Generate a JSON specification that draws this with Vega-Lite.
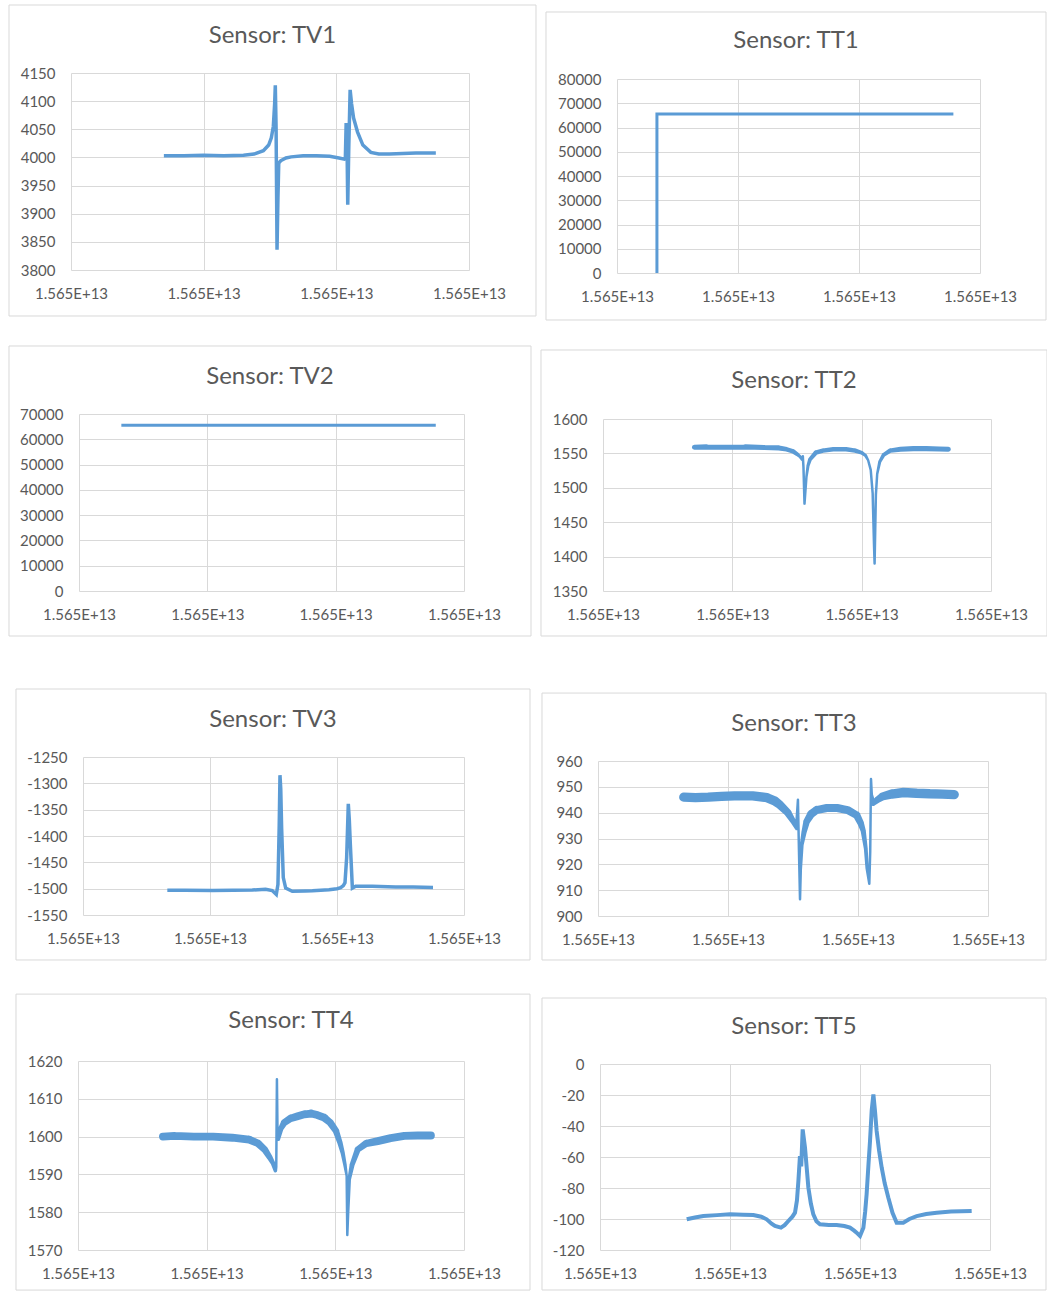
{
  "$schema": "https://vega.github.io/schema/vega-lite/v6.json",
  "padding": 0,
  "background": "white",
  "datasets": {
    "TV1": [
      {"t":0.70,"v":4003},{"t":0.85,"v":4003},{"t":1.00,"v":4004},{"t":1.15,"v":4003},{"t":1.30,"v":4004},
      {"t":1.38,"v":4006},{"t":1.45,"v":4012},{"t":1.49,"v":4022},{"t":1.51,"v":4035},{"t":1.525,"v":4055},
      {"t":1.535,"v":4095},{"t":1.540,"v":4128},{"t":1.546,"v":4050},{"t":1.553,"v":3836},{"t":1.560,"v":3930},
      {"t":1.566,"v":3990},{"t":1.58,"v":3994},{"t":1.62,"v":3999},{"t":1.66,"v":4001},{"t":1.75,"v":4003},
      {"t":1.85,"v":4003},{"t":1.95,"v":4002},{"t":2.02,"v":3999},{"t":2.06,"v":3997},{"t":2.068,"v":3999},
      {"t":2.074,"v":4061},{"t":2.079,"v":4055},{"t":2.086,"v":3916},{"t":2.094,"v":4020},{"t":2.104,"v":4120},
      {"t":2.115,"v":4095},{"t":2.13,"v":4070},{"t":2.16,"v":4045},{"t":2.20,"v":4022},{"t":2.26,"v":4009},
      {"t":2.32,"v":4006},{"t":2.40,"v":4006},{"t":2.50,"v":4007},{"t":2.60,"v":4008},{"t":2.75,"v":4008}
    ],
    "TT1": [{"t":0.33,"v":0},{"t":0.33,"v":65535},{"t":2.78,"v":65535}],
    "TV2": [{"t":0.33,"v":65535},{"t":2.78,"v":65535}],
    "TT2": [
      {"t":0.707,"v":1559,"n":4},{"t":0.80,"v":1559.5,"n":4},{"t":0.95,"v":1559,"n":4},{"t":1.10,"v":1559.5,"n":4},
      {"t":1.25,"v":1558.5,"n":4},{"t":1.36,"v":1558,"n":4},{"t":1.42,"v":1556,"n":3},{"t":1.47,"v":1553,"n":3},
      {"t":1.50,"v":1549,"n":2},{"t":1.52,"v":1546,"n":1},{"t":1.538,"v":1541,"n":0},{"t":1.545,"v":1546,"n":0},
      {"t":1.55,"v":1530,"n":0},{"t":1.558,"v":1477,"n":0},{"t":1.565,"v":1495,"n":0},{"t":1.573,"v":1516,"n":0},
      {"t":1.585,"v":1532,"n":1},{"t":1.60,"v":1541,"n":2},{"t":1.645,"v":1551,"n":3},{"t":1.70,"v":1554,"n":3},
      {"t":1.78,"v":1556,"n":3},{"t":1.88,"v":1556,"n":3},{"t":1.95,"v":1554,"n":3},{"t":2.00,"v":1551,"n":2},
      {"t":2.03,"v":1547,"n":1},{"t":2.05,"v":1540,"n":0},{"t":2.07,"v":1526,"n":0},{"t":2.085,"v":1492,"n":0},
      {"t":2.095,"v":1420,"n":0},{"t":2.10,"v":1390,"n":0},{"t":2.105,"v":1440,"n":0},{"t":2.11,"v":1490,"n":0},
      {"t":2.12,"v":1520,"n":0},{"t":2.14,"v":1538,"n":1},{"t":2.17,"v":1548,"n":2},{"t":2.22,"v":1554,"n":3},
      {"t":2.30,"v":1556,"n":4},{"t":2.40,"v":1557,"n":4},{"t":2.50,"v":1557,"n":4},{"t":2.60,"v":1556.5,"n":4},
      {"t":2.67,"v":1556,"n":4}
    ],
    "TV3": [
      {"t":0.664,"v":-1503},{"t":0.80,"v":-1503},{"t":1.018,"v":-1503.5},{"t":1.18,"v":-1503},{"t":1.333,"v":-1502.5},
      {"t":1.438,"v":-1501},{"t":1.49,"v":-1503.5},{"t":1.522,"v":-1511},{"t":1.535,"v":-1492},{"t":1.545,"v":-1380},
      {"t":1.551,"v":-1284.5},{"t":1.557,"v":-1310},{"t":1.564,"v":-1385},{"t":1.577,"v":-1479},{"t":1.596,"v":-1499},
      {"t":1.648,"v":-1505},{"t":1.75,"v":-1504.5},{"t":1.806,"v":-1504},{"t":1.937,"v":-1502},{"t":2.00,"v":-1500},
      {"t":2.029,"v":-1498},{"t":2.05,"v":-1494},{"t":2.063,"v":-1488.5},{"t":2.076,"v":-1441},{"t":2.089,"v":-1339},
      {"t":2.097,"v":-1370},{"t":2.105,"v":-1416},{"t":2.121,"v":-1499},{"t":2.147,"v":-1495.4},{"t":2.278,"v":-1495.4},
      {"t":2.462,"v":-1496.7},{"t":2.60,"v":-1497},{"t":2.756,"v":-1498}
    ],
    "TT3": [
      {"t":0.66,"v":946,"n":2.5},{"t":0.75,"v":945.8,"n":2.5},{"t":0.85,"v":946,"n":2.5},{"t":0.95,"v":946.3,"n":2.5},
      {"t":1.05,"v":946.5,"n":2.5},{"t":1.19,"v":946.5,"n":2.5},{"t":1.30,"v":945.8,"n":2.5},{"t":1.36,"v":944.5,"n":2.5},
      {"t":1.40,"v":943,"n":2.2},{"t":1.46,"v":940,"n":1.8},{"t":1.50,"v":936.8,"n":1.2},{"t":1.53,"v":934,"n":0.6},
      {"t":1.538,"v":945,"n":0},{"t":1.546,"v":925,"n":0},{"t":1.554,"v":906.5,"n":0},{"t":1.560,"v":918,"n":0},
      {"t":1.567,"v":927.5,"n":0.5},{"t":1.585,"v":932.5,"n":1},{"t":1.605,"v":936.6,"n":1.5},{"t":1.64,"v":939.5,"n":2},
      {"t":1.68,"v":941,"n":2},{"t":1.76,"v":941.8,"n":2},{"t":1.84,"v":941.8,"n":2},{"t":1.92,"v":941,"n":2},
      {"t":1.99,"v":939,"n":1.8},{"t":2.02,"v":936,"n":1.5},{"t":2.04,"v":933,"n":1},{"t":2.06,"v":926,"n":0.5},
      {"t":2.07,"v":918.5,"n":0.3},{"t":2.087,"v":912.5,"n":0},{"t":2.094,"v":925,"n":0},{"t":2.10,"v":953,"n":0},
      {"t":2.106,"v":947,"n":0},{"t":2.118,"v":943.5,"n":0.8},{"t":2.15,"v":945,"n":1.5},{"t":2.19,"v":946.3,"n":2},
      {"t":2.26,"v":947.2,"n":2.5},{"t":2.35,"v":947.8,"n":2.5},{"t":2.45,"v":947.5,"n":2.5},{"t":2.55,"v":947.3,"n":2.5},
      {"t":2.65,"v":947.2,"n":2.5},{"t":2.74,"v":947,"n":2.5}
    ],
    "TT4": [
      {"t":0.66,"v":1600,"n":1.5},{"t":0.75,"v":1600.2,"n":1.5},{"t":0.90,"v":1600,"n":1.5},{"t":1.05,"v":1600,"n":1.5},
      {"t":1.20,"v":1599.7,"n":1.5},{"t":1.33,"v":1599.2,"n":1.5},{"t":1.40,"v":1598.2,"n":1.4},{"t":1.45,"v":1596.6,"n":1.2},
      {"t":1.49,"v":1594.5,"n":0.9},{"t":1.515,"v":1593,"n":0.6},{"t":1.534,"v":1591,"n":0.3},{"t":1.541,"v":1592,"n":0},
      {"t":1.546,"v":1615.2,"n":0},{"t":1.551,"v":1600,"n":0},{"t":1.557,"v":1599.3,"n":0.3},{"t":1.575,"v":1602,"n":0.8},
      {"t":1.603,"v":1603.7,"n":1.2},{"t":1.65,"v":1604.8,"n":1.4},{"t":1.707,"v":1605.4,"n":1.5},{"t":1.76,"v":1605.9,"n":1.5},
      {"t":1.811,"v":1606.1,"n":1.5},{"t":1.86,"v":1605.7,"n":1.5},{"t":1.914,"v":1605,"n":1.5},{"t":1.96,"v":1603.7,"n":1.3},
      {"t":2.005,"v":1601.5,"n":1.1},{"t":2.035,"v":1598.5,"n":0.8},{"t":2.057,"v":1595.7,"n":0.5},{"t":2.075,"v":1592.5,"n":0.3},
      {"t":2.088,"v":1589.6,"n":0},{"t":2.093,"v":1574,"n":0},{"t":2.100,"v":1580,"n":0},{"t":2.108,"v":1588.7,"n":0.3},
      {"t":2.13,"v":1592.5,"n":0.7},{"t":2.174,"v":1596.6,"n":1},{"t":2.24,"v":1598.2,"n":1.3},{"t":2.33,"v":1598.8,"n":1.5},
      {"t":2.43,"v":1599.6,"n":1.5},{"t":2.536,"v":1600.2,"n":1.5},{"t":2.64,"v":1600.3,"n":1.5},{"t":2.743,"v":1600.3,"n":1.5}
    ],
    "TT5": [
      {"t":0.667,"v":-100.2},{"t":0.73,"v":-99},{"t":0.795,"v":-98.1},{"t":0.90,"v":-97.5},{"t":1.00,"v":-97},
      {"t":1.10,"v":-97.2},{"t":1.18,"v":-97.4},{"t":1.24,"v":-98.5},{"t":1.282,"v":-100.2},{"t":1.32,"v":-103},
      {"t":1.346,"v":-104.5},{"t":1.392,"v":-105.6},{"t":1.42,"v":-104},{"t":1.449,"v":-101.3},{"t":1.48,"v":-98.5},
      {"t":1.50,"v":-95.9},{"t":1.515,"v":-88},{"t":1.526,"v":-75.5},{"t":1.538,"v":-59.4},{"t":1.548,"v":-66},
      {"t":1.559,"v":-42.2},{"t":1.577,"v":-54},{"t":1.603,"v":-79.8},{"t":1.622,"v":-90},{"t":1.641,"v":-97},
      {"t":1.665,"v":-101.5},{"t":1.692,"v":-103.4},{"t":1.76,"v":-103.8},{"t":1.82,"v":-103.9},{"t":1.88,"v":-104.5},
      {"t":1.923,"v":-105.6},{"t":1.955,"v":-107.5},{"t":1.974,"v":-108.8},{"t":2.00,"v":-111},{"t":2.026,"v":-105.6},
      {"t":2.04,"v":-95},{"t":2.051,"v":-84},{"t":2.065,"v":-65},{"t":2.077,"v":-49.7},{"t":2.09,"v":-30},
      {"t":2.103,"v":-19.6},{"t":2.115,"v":-30},{"t":2.128,"v":-43.2},{"t":2.147,"v":-56},{"t":2.167,"v":-66.9},
      {"t":2.19,"v":-77},{"t":2.218,"v":-86.3},{"t":2.25,"v":-96},{"t":2.282,"v":-102.4},{"t":2.333,"v":-102.4},
      {"t":2.38,"v":-100},{"t":2.436,"v":-98.1},{"t":2.51,"v":-96.8},{"t":2.59,"v":-95.9},{"t":2.70,"v":-95.2},
      {"t":2.78,"v":-95},{"t":2.859,"v":-94.8}
    ]
  },
  "spacing": 0,
  "resolve": {"scale": {"size": "independent"}},
  "hconcat": [
    {
      "spacing": 0,
      "resolve": {"scale": {"size": "independent"}},
      "vconcat": [
        {"width": 1, "height": 4, "data": {"values": []}, "mark": "point", "encoding": {}},
        {"spacing": 0, "hconcat": [
          {"width": 8, "height": 1, "data": {"values": []}, "mark": "point", "encoding": {}},
          {
            "width": 398, "height": 197,
            "data": {"name": "TV1"},
            "title": {"text": "Sensor: TV1", "offset": -43},
            "layer": [
              {"mark": {"type": "line", "color": "#5B9BD5", "strokeWidth": 3.5},
               "encoding": {
                 "x": {"field": "t", "type": "quantitative", "scale": {"domain": [0, 3], "nice": false, "zero": false}, "axis": {"values": [0, 1, 2, 3], "labelExpr": "'1.565E+13'", "title": null}},
                 "y": {"field": "v", "type": "quantitative", "scale": {"domain": [3800, 4150], "nice": false, "zero": false}, "axis": {"values": [3800, 3850, 3900, 3950, 4000, 4050, 4100, 4150], "labelExpr": "'' + datum.value", "title": null}}
               }},
              {"data": {"values": [{}]}, "mark": {"type": "rect", "filled": false, "stroke": "#D9D9D9", "strokeWidth": 1},
               "encoding": {
                 "x": {"datum": -0.4673, "type": "quantitative", "axis": {"values": [0, 1, 2, 3], "labelExpr": "'1.565E+13'", "title": null}},
                 "x2": {"datum": 3.505},
                 "y": {"datum": 4270.8, "type": "quantitative", "axis": {"values": [3800, 3850, 3900, 3950, 4000, 4050, 4100, 4150], "labelExpr": "'' + datum.value", "title": null}},
                 "y2": {"datum": 3718.3}}}
            ]
          }
        ]},
        {"width": 1, "height": 28, "data": {"values": []}, "mark": "point", "encoding": {}},
        {"spacing": 0, "hconcat": [
          {"width": 8, "height": 1, "data": {"values": []}, "mark": "point", "encoding": {}},
          {
            "width": 385, "height": 177,
            "data": {"name": "TV2"},
            "title": {"text": "Sensor: TV2", "offset": -43.5},
            "layer": [
              {"mark": {"type": "line", "color": "#5B9BD5", "strokeWidth": 3},
               "encoding": {
                 "x": {"field": "t", "type": "quantitative", "scale": {"domain": [0, 3], "nice": false, "zero": false}, "axis": {"values": [0, 1, 2, 3], "labelExpr": "'1.565E+13'", "title": null}},
                 "y": {"field": "v", "type": "quantitative", "scale": {"domain": [0, 70000], "nice": false, "zero": false}, "axis": {"values": [0, 10000, 20000, 30000, 40000, 50000, 60000, 70000], "labelExpr": "'' + datum.value", "title": null}}
               }},
              {"data": {"values": [{}]}, "mark": {"type": "rect", "filled": false, "stroke": "#D9D9D9", "strokeWidth": 1},
               "encoding": {
                 "x": {"datum": -0.5455, "type": "quantitative", "axis": {"values": [0, 1, 2, 3], "labelExpr": "'1.565E+13'", "title": null}},
                 "x2": {"datum": 3.5221},
                 "y": {"datum": 96893, "type": "quantitative", "axis": {"values": [0, 10000, 20000, 30000, 40000, 50000, 60000, 70000], "labelExpr": "'' + datum.value", "title": null}},
                 "y2": {"datum": -17797}}}
            ]
          }
        ]},
        {"width": 1, "height": 51, "data": {"values": []}, "mark": "point", "encoding": {}},
        {"spacing": 0, "hconcat": [
          {"width": 15, "height": 1, "data": {"values": []}, "mark": "point", "encoding": {}},
          {
            "width": 381, "height": 158,
            "data": {"name": "TV3"},
            "title": {"text": "Sensor: TV3", "offset": -43.5},
            "layer": [
              {"mark": {"type": "line", "color": "#5B9BD5", "strokeWidth": 3.5},
               "encoding": {
                 "x": {"field": "t", "type": "quantitative", "scale": {"domain": [0, 3], "nice": false, "zero": false}, "axis": {"values": [0, 1, 2, 3], "labelExpr": "'1.565E+13'", "title": null}},
                 "y": {"field": "v", "type": "quantitative", "scale": {"domain": [-1550, -1250], "nice": false, "zero": false}, "axis": {"values": [-1550, -1500, -1450, -1400, -1350, -1300, -1250], "labelExpr": "'' + datum.value", "title": null}}
               }},
              {"data": {"values": [{}]}, "mark": {"type": "rect", "filled": false, "stroke": "#D9D9D9", "strokeWidth": 1},
               "encoding": {
                 "x": {"datum": -0.5276, "type": "quantitative", "axis": {"values": [0, 1, 2, 3], "labelExpr": "'1.565E+13'", "title": null}},
                 "x2": {"datum": 3.5197},
                 "y": {"datum": -1120.9, "type": "quantitative", "axis": {"values": [-1550, -1500, -1450, -1400, -1350, -1300, -1250], "labelExpr": "'' + datum.value", "title": null}},
                 "y2": {"datum": -1635.4}}}
            ]
          }
        ]},
        {"width": 1, "height": 32, "data": {"values": []}, "mark": "point", "encoding": {}},
        {"spacing": 0, "hconcat": [
          {"width": 15, "height": 1, "data": {"values": []}, "mark": "point", "encoding": {}},
          {
            "width": 386, "height": 189,
            "data": {"name": "TT4"},
            "title": {"text": "Sensor: TT4", "offset": -39.5, "dx": 18},
            "layer": [
              {"mark": {"type": "trail", "color": "#5B9BD5"},
               "encoding": {
                 "x": {"field": "t", "type": "quantitative", "scale": {"domain": [0, 3], "nice": false, "zero": false}, "axis": {"values": [0, 1, 2, 3], "labelExpr": "'1.565E+13'", "title": null}},
                 "y": {"field": "v", "type": "quantitative", "scale": {"domain": [1570, 1620], "nice": false, "zero": false}, "axis": {"values": [1570, 1580, 1590, 1600, 1610, 1620], "labelExpr": "'' + datum.value", "title": null}},
                 "size": {"field": "n", "type": "quantitative", "scale": {"domain": [0, 10], "range": [2.5, 38]}, "legend": null}
               }},
              {"data": {"values": [{}]}, "mark": {"type": "rect", "filled": false, "stroke": "#D9D9D9", "strokeWidth": 1},
               "encoding": {
                 "x": {"datum": -0.4819, "type": "quantitative", "axis": {"values": [0, 1, 2, 3], "labelExpr": "'1.565E+13'", "title": null}},
                 "x2": {"datum": 3.513},
                 "y": {"datum": 1637.7, "type": "quantitative", "axis": {"values": [1570, 1580, 1590, 1600, 1610, 1620], "labelExpr": "'' + datum.value", "title": null}},
                 "y2": {"datum": 1559.4}}}
            ]
          }
        ]}
      ]
    },
    {
      "spacing": 0,
      "resolve": {"scale": {"size": "independent"}},
      "vconcat": [
        {"width": 1, "height": 11, "data": {"values": []}, "mark": "point", "encoding": {}},
        {"spacing": 0, "hconcat": [
          {"width": 8, "height": 1, "data": {"values": []}, "mark": "point", "encoding": {}},
          {
            "width": 363, "height": 194,
            "data": {"name": "TT1"},
            "title": {"text": "Sensor: TT1", "offset": -42},
            "layer": [
              {"mark": {"type": "line", "color": "#5B9BD5", "strokeWidth": 3},
               "encoding": {
                 "x": {"field": "t", "type": "quantitative", "scale": {"domain": [0, 3], "nice": false, "zero": false}, "axis": {"values": [0, 1, 2, 3], "labelExpr": "'1.565E+13'", "title": null}},
                 "y": {"field": "v", "type": "quantitative", "scale": {"domain": [0, 80000], "nice": false, "zero": false}, "axis": {"values": [0, 10000, 20000, 30000, 40000, 50000, 60000, 70000, 80000], "labelExpr": "'' + datum.value", "title": null}}
               }},
              {"data": {"values": [{}]}, "mark": {"type": "rect", "filled": false, "stroke": "#D9D9D9", "strokeWidth": 1},
               "encoding": {
                 "x": {"datum": -0.5868, "type": "quantitative", "axis": {"values": [0, 1, 2, 3], "labelExpr": "'1.565E+13'", "title": null}},
                 "x2": {"datum": 3.5455},
                 "y": {"datum": 107629, "type": "quantitative", "axis": {"values": [0, 10000, 20000, 30000, 40000, 50000, 60000, 70000, 80000], "labelExpr": "'' + datum.value", "title": null}},
                 "y2": {"datum": -19381}}}
            ]
          }
        ]},
        {"width": 1, "height": 28, "data": {"values": []}, "mark": "point", "encoding": {}},
        {"spacing": 0, "hconcat": [
          {"width": 3, "height": 1, "data": {"values": []}, "mark": "point", "encoding": {}},
          {
            "width": 388, "height": 172,
            "data": {"name": "TT2"},
            "title": {"text": "Sensor: TT2", "offset": -44},
            "layer": [
              {"mark": {"type": "trail", "color": "#5B9BD5"},
               "encoding": {
                 "x": {"field": "t", "type": "quantitative", "scale": {"domain": [0, 3], "nice": false, "zero": false}, "axis": {"values": [0, 1, 2, 3], "labelExpr": "'1.565E+13'", "title": null}},
                 "y": {"field": "v", "type": "quantitative", "scale": {"domain": [1350, 1600], "nice": false, "zero": false}, "axis": {"values": [1350, 1400, 1450, 1500, 1550, 1600], "labelExpr": "'' + datum.value", "title": null}},
                 "size": {"field": "n", "type": "quantitative", "scale": {"domain": [0, 10], "range": [2.5, 9]}, "legend": null}
               }},
              {"data": {"values": [{}]}, "mark": {"type": "rect", "filled": false, "stroke": "#D9D9D9", "strokeWidth": 1},
               "encoding": {
                 "x": {"datum": -0.4794, "type": "quantitative", "axis": {"values": [0, 1, 2, 3], "labelExpr": "'1.565E+13'", "title": null}},
                 "x2": {"datum": 3.433},
                 "y": {"datum": 1700.3, "type": "quantitative", "axis": {"values": [1350, 1400, 1450, 1500, 1550, 1600], "labelExpr": "'' + datum.value", "title": null}},
                 "y2": {"datum": 1284.6}}}
            ]
          }
        ]},
        {"width": 1, "height": 55, "data": {"values": []}, "mark": "point", "encoding": {}},
        {"spacing": 0, "hconcat": [
          {"width": 4, "height": 1, "data": {"values": []}, "mark": "point", "encoding": {}},
          {
            "width": 390, "height": 155,
            "data": {"name": "TT3"},
            "title": {"text": "Sensor: TT3", "offset": -43},
            "layer": [
              {"mark": {"type": "trail", "color": "#5B9BD5"},
               "encoding": {
                 "x": {"field": "t", "type": "quantitative", "scale": {"domain": [0, 3], "nice": false, "zero": false}, "axis": {"values": [0, 1, 2, 3], "labelExpr": "'1.565E+13'", "title": null}},
                 "y": {"field": "v", "type": "quantitative", "scale": {"domain": [900, 960], "nice": false, "zero": false}, "axis": {"values": [900, 910, 920, 930, 940, 950, 960], "labelExpr": "'' + datum.value", "title": null}},
                 "size": {"field": "n", "type": "quantitative", "scale": {"domain": [0, 10], "range": [2.5, 30]}, "legend": null}
               }},
              {"data": {"values": [{}]}, "mark": {"type": "rect", "filled": false, "stroke": "#D9D9D9", "strokeWidth": 1},
               "encoding": {
                 "x": {"datum": -0.4308, "type": "quantitative", "axis": {"values": [0, 1, 2, 3], "labelExpr": "'1.565E+13'", "title": null}},
                 "x2": {"datum": 3.4462},
                 "y": {"datum": 986.3, "type": "quantitative", "axis": {"values": [900, 910, 920, 930, 940, 950, 960], "labelExpr": "'' + datum.value", "title": null}},
                 "y2": {"datum": 882.97}}}
            ]
          }
        ]},
        {"width": 1, "height": 36, "data": {"values": []}, "mark": "point", "encoding": {}},
        {"spacing": 0, "hconcat": [
          {"width": 4, "height": 1, "data": {"values": []}, "mark": "point", "encoding": {}},
          {
            "width": 390, "height": 186,
            "data": {"name": "TT5"},
            "title": {"text": "Sensor: TT5", "offset": -41.5},
            "layer": [
              {"mark": {"type": "line", "color": "#5B9BD5", "strokeWidth": 4},
               "encoding": {
                 "x": {"field": "t", "type": "quantitative", "scale": {"domain": [0, 3], "nice": false, "zero": false}, "axis": {"values": [0, 1, 2, 3], "labelExpr": "'1.565E+13'", "title": null}},
                 "y": {"field": "v", "type": "quantitative", "scale": {"domain": [-120, 0], "nice": false, "zero": false}, "axis": {"values": [-120, -100, -80, -60, -40, -20, 0], "labelExpr": "'' + datum.value", "title": null}}
               }},
              {"data": {"values": [{}]}, "mark": {"type": "rect", "filled": false, "stroke": "#D9D9D9", "strokeWidth": 1},
               "encoding": {
                 "x": {"datum": -0.4462, "type": "quantitative", "axis": {"values": [0, 1, 2, 3], "labelExpr": "'1.565E+13'", "title": null}},
                 "x2": {"datum": 3.4308},
                 "y": {"datum": 42.58, "type": "quantitative", "axis": {"values": [-120, -100, -80, -60, -40, -20, 0], "labelExpr": "'' + datum.value", "title": null}},
                 "y2": {"datum": -145.8}}}
            ]
          }
        ]}
      ]
    }
  ],
  "config": {
    "font": "Lato",
    "view": {"stroke": null},
    "axis": {
      "labelFont": "Lato",
      "labelFontSize": 15,
      "labelColor": "#595959",
      "grid": true,
      "gridColor": "#D9D9D9",
      "gridWidth": 1,
      "ticks": false,
      "domain": false,
      "labelPadding": 16,
      "labelFlush": false,
      "labelOverlap": false
    },
    "title": {
      "font": "Lato",
      "fontSize": 24,
      "fontWeight": "normal",
      "color": "#595959",
      "anchor": "middle",
      "frame": "bounds"
    }
  }
}
